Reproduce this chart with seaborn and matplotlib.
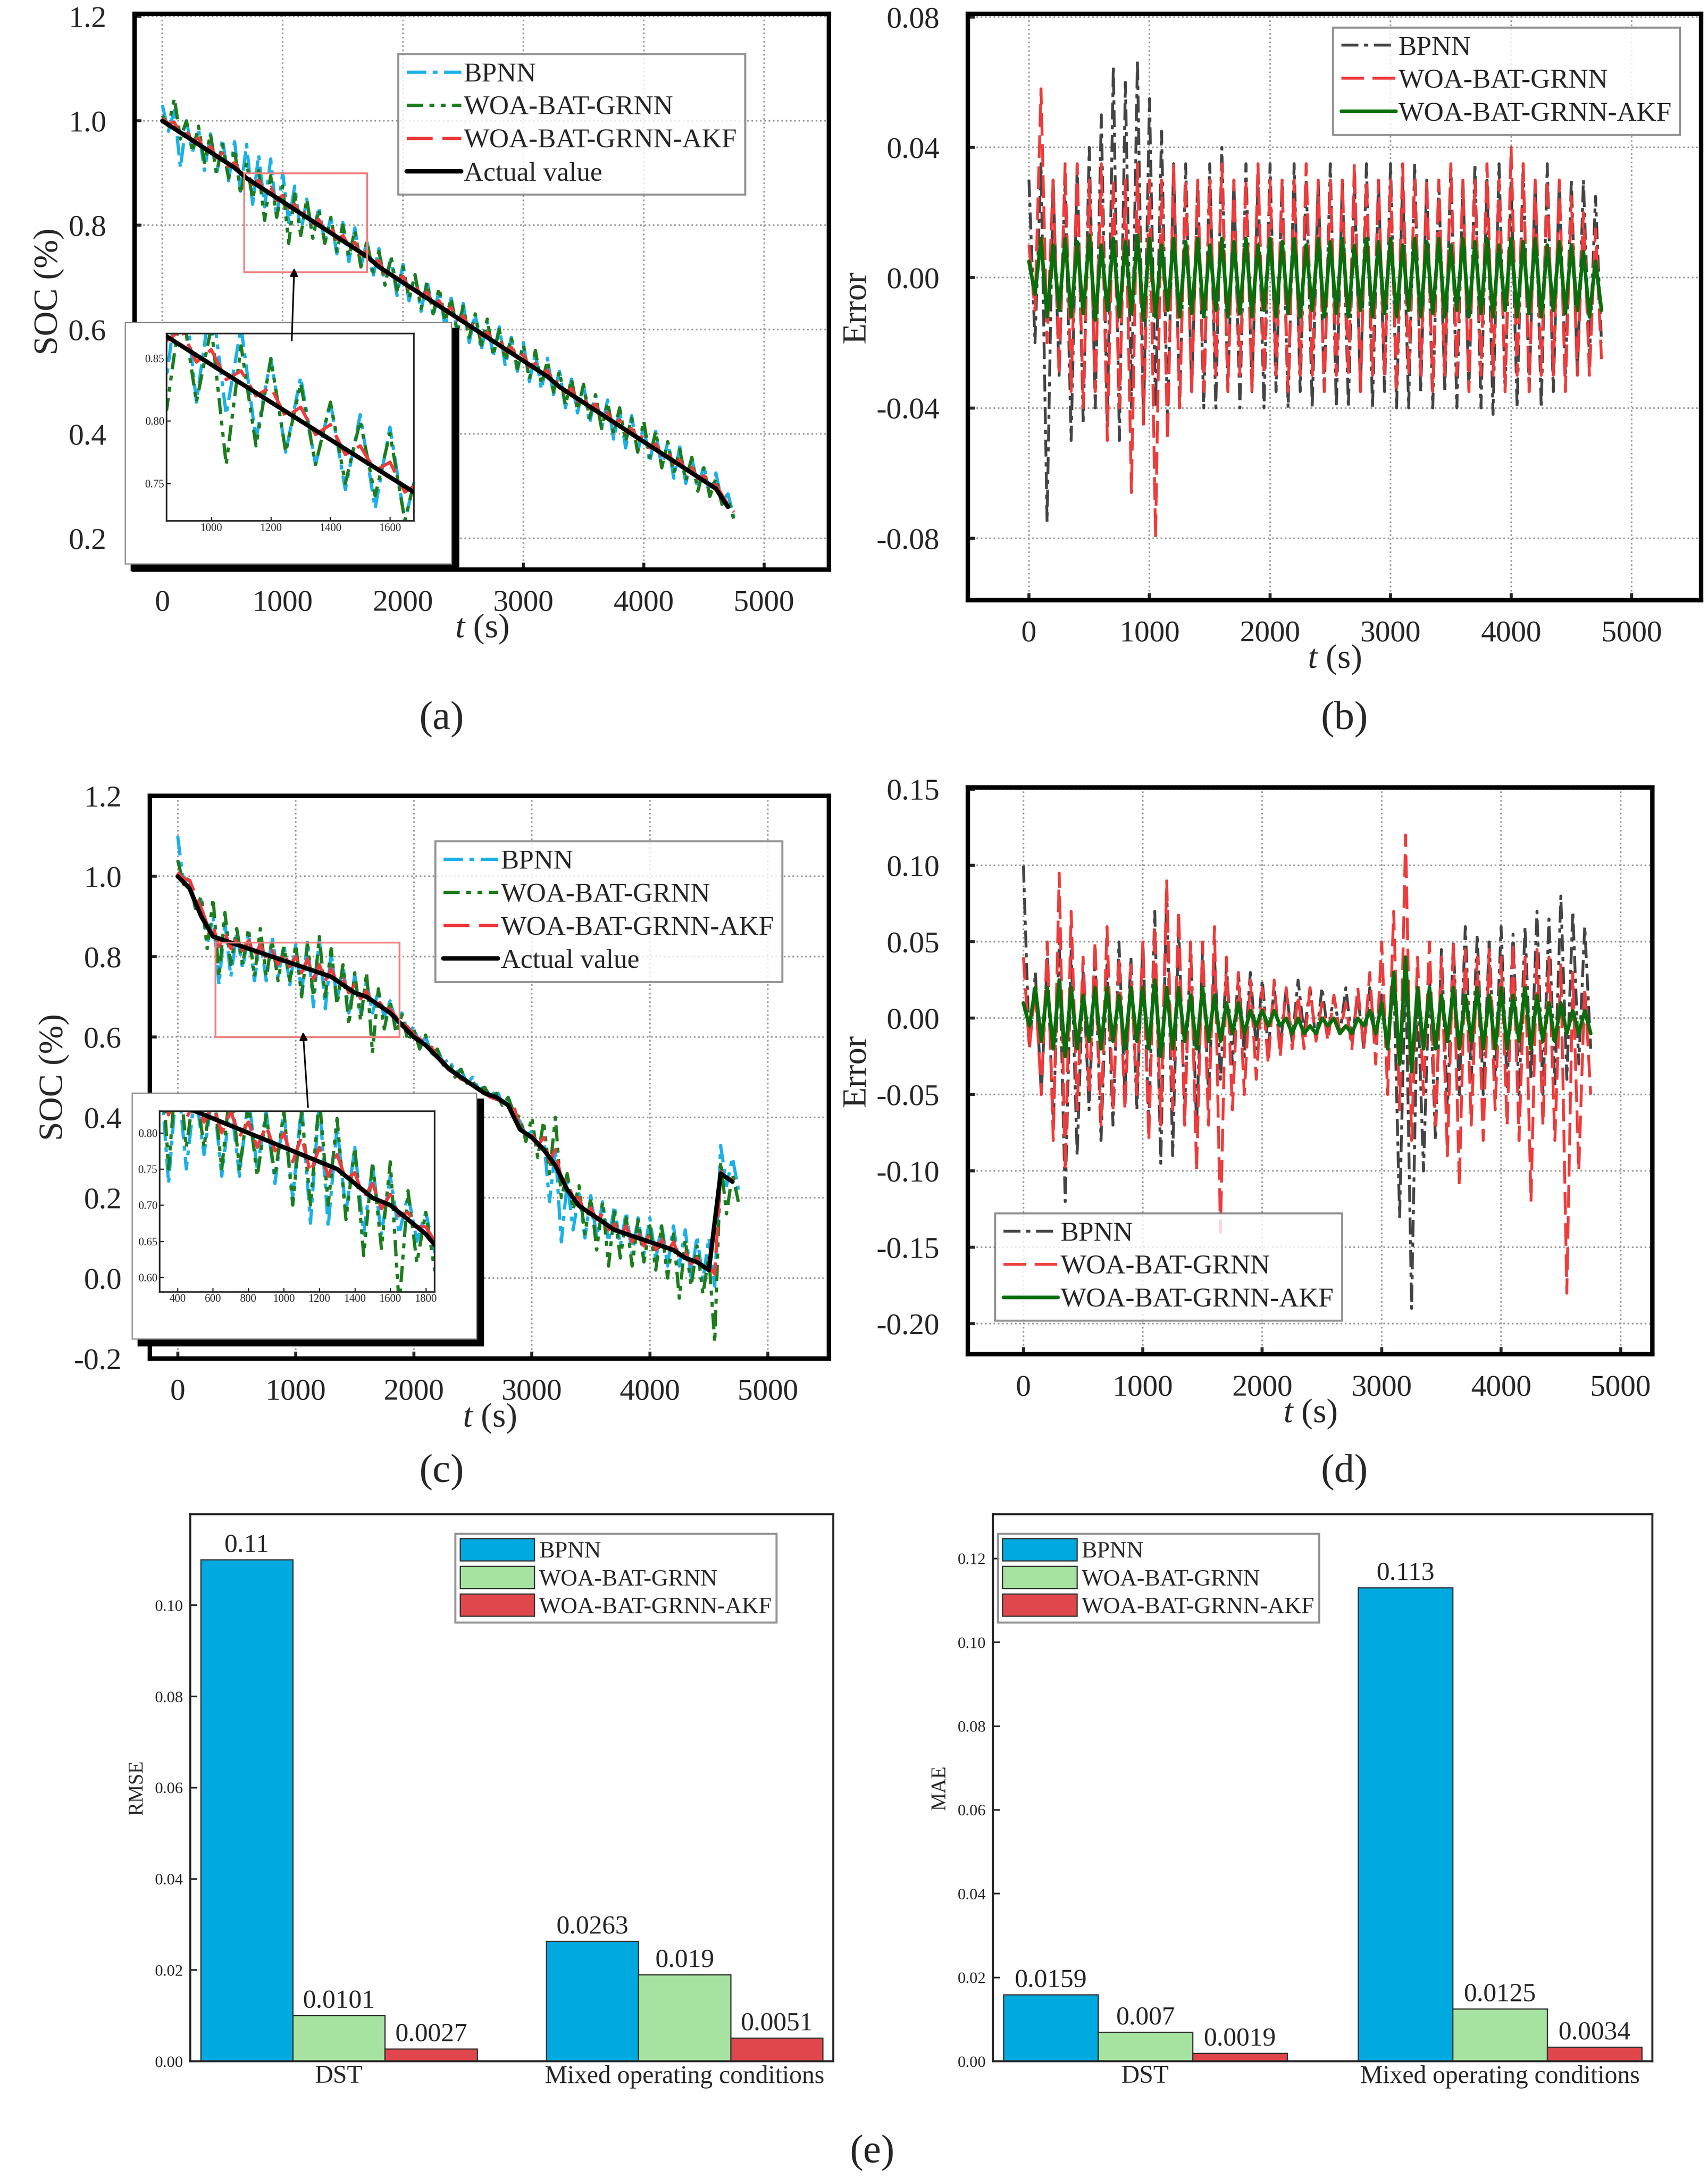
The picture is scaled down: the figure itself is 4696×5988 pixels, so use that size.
import numpy as np
import pandas as pd
import matplotlib.pyplot as plt
from matplotlib.patches import Rectangle, FancyArrowPatch
import seaborn as sns

sns.set_style('ticks')
plt.rcParams['font.family'] = ['Liberation Serif', 'DejaVu Serif']
plt.rcParams['mathtext.fontset'] = 'custom'
plt.rcParams['mathtext.rm'] = 'Liberation Serif'
plt.rcParams['mathtext.it'] = 'Liberation Serif:italic'
plt.rcParams['xtick.direction'] = 'in'
plt.rcParams['ytick.direction'] = 'in'

# time grid (s), one value per 100 s
t = np.arange(0, 4800, 100)

# DST: actual SOC
soc_a = [1.00, 0.985, 0.97, 0.955, 0.94, 0.925, 0.91, 0.89, 0.875, 0.86,
         0.845, 0.83, 0.815, 0.80, 0.785, 0.77, 0.755, 0.74, 0.72, 0.705,
         0.69, 0.675, 0.66, 0.645, 0.63, 0.615, 0.60, 0.585, 0.57, 0.555,
         0.54, 0.525, 0.51, 0.49, 0.475, 0.46, 0.445, 0.43, 0.415, 0.40,
         0.385, 0.37, 0.355, 0.34, 0.325, 0.31, 0.295, 0.26]
# DST error envelopes (upper / lower spike per 100 s)
b_bp_hi = [0.03, 0.035, 0.03, 0.03, 0.035, 0.04, 0.05, 0.065, 0.06, 0.067,
           0.055, 0.045, 0.035, 0.035, 0.03, 0.035, 0.04, 0.03, 0.035, 0.03,
           0.035, 0.03, 0.035, 0.03, 0.03, 0.035, 0.03, 0.03, 0.035, 0.03,
           0.035, 0.03, 0.035, 0.03, 0.03, 0.035, 0.03, 0.035, 0.03, 0.035,
           0.03, 0.035, 0.03, 0.035, 0.03, 0.03, 0.03, 0.025]
b_bp_lo = [-0.02, -0.075, -0.03, -0.05, -0.045, -0.04, -0.045, -0.05, -0.04, -0.045,
           -0.04, -0.045, -0.04, -0.035, -0.04, -0.04, -0.035, -0.04, -0.035, -0.04,
           -0.035, -0.04, -0.035, -0.04, -0.035, -0.04, -0.04, -0.035, -0.04, -0.035,
           -0.04, -0.04, -0.035, -0.04, -0.035, -0.04, -0.035, -0.04, -0.042, -0.035,
           -0.04, -0.035, -0.04, -0.035, -0.03, -0.03, -0.025, -0.02]
b_gr_hi = [0.01, 0.058, 0.03, 0.035, 0.035, 0.03, 0.035, 0.03, 0.03, 0.035,
           0.03, 0.03, 0.035, 0.03, 0.03, 0.03, 0.035, 0.03, 0.03, 0.035,
           0.03, 0.03, 0.03, 0.035, 0.03, 0.03, 0.03, 0.035, 0.03, 0.03,
           0.03, 0.035, 0.03, 0.03, 0.03, 0.035, 0.03, 0.03, 0.035, 0.03,
           0.04, 0.035, 0.03, 0.03, 0.03, 0.025, 0.02, 0.015]
b_gr_lo = [-0.01, -0.02, -0.03, -0.035, -0.04, -0.035, -0.05, -0.04, -0.066, -0.045,
           -0.08, -0.05, -0.04, -0.035, -0.035, -0.03, -0.035, -0.03, -0.035, -0.03,
           -0.03, -0.035, -0.03, -0.03, -0.035, -0.03, -0.03, -0.035, -0.03, -0.03,
           -0.035, -0.03, -0.03, -0.035, -0.03, -0.03, -0.035, -0.03, -0.03, -0.035,
           -0.03, -0.035, -0.03, -0.03, -0.035, -0.03, -0.03, -0.025]
b_ak_hi = [0.005, 0.012, 0.01, 0.012, 0.011, 0.013, 0.01, 0.012, 0.011, 0.013,
           0.012, 0.01, 0.012, 0.011, 0.012, 0.01, 0.012, 0.011, 0.012, 0.01,
           0.012, 0.011, 0.012, 0.01, 0.012, 0.011, 0.012, 0.01, 0.012, 0.011,
           0.012, 0.01, 0.012, 0.011, 0.012, 0.01, 0.012, 0.011, 0.012, 0.01,
           0.012, 0.011, 0.012, 0.01, 0.011, 0.01, 0.008, 0.005]
b_ak_lo = [-0.005, -0.012, -0.01, -0.012, -0.011, -0.013, -0.01, -0.012, -0.011, -0.013,
           -0.012, -0.01, -0.012, -0.011, -0.012, -0.01, -0.012, -0.011, -0.012, -0.01,
           -0.012, -0.011, -0.012, -0.01, -0.012, -0.011, -0.012, -0.01, -0.012, -0.011,
           -0.012, -0.01, -0.012, -0.011, -0.012, -0.01, -0.012, -0.011, -0.012, -0.01,
           -0.012, -0.011, -0.012, -0.01, -0.011, -0.01, -0.012, -0.01]

# mixed conditions: actual SOC
soc_c = [1.00, 0.97, 0.90, 0.85, 0.84, 0.83, 0.82, 0.81, 0.80, 0.79,
         0.78, 0.77, 0.76, 0.75, 0.73, 0.71, 0.70, 0.68, 0.66, 0.63,
         0.60, 0.58, 0.55, 0.52, 0.50, 0.48, 0.46, 0.45, 0.43, 0.37,
         0.35, 0.32, 0.28, 0.22, 0.18, 0.16, 0.14, 0.12, 0.11, 0.10,
         0.09, 0.08, 0.07, 0.05, 0.04, 0.02, 0.26, 0.24]
d_bp_hi = [0.10, 0.03, 0.04, 0.05, 0.045, 0.03, 0.04, 0.035, 0.05, 0.04,
           0.05, 0.07, 0.085, 0.06, 0.05, 0.045, 0.04, 0.035, 0.03, 0.03,
           0.025, 0.02, 0.02, 0.025, 0.02, 0.02, 0.015, 0.02, 0.015, 0.02,
           0.015, 0.03, 0.04, 0.02, 0.03, 0.045, 0.05, 0.06, 0.055, 0.05,
           0.06, 0.055, 0.06, 0.07, 0.065, 0.08, 0.07, 0.06]
d_bp_lo = [-0.02, -0.05, -0.07, -0.12, -0.09, -0.06, -0.08, -0.07, -0.05, -0.06,
           -0.07, -0.095, -0.09, -0.06, -0.07, -0.05, -0.04, -0.03, -0.025, -0.02,
           -0.02, -0.02, -0.015, -0.01, -0.015, -0.01, -0.01, -0.015, -0.02, -0.015,
           -0.02, -0.13, -0.19, -0.1, -0.08, -0.06, -0.05, -0.04, -0.05, -0.04,
           -0.045, -0.05, -0.04, -0.05, -0.045, -0.04, -0.03, -0.02]
d_gr_hi = [0.04, 0.02, 0.05, 0.095, 0.07, 0.04, 0.05, 0.06, 0.04, 0.035,
           0.05, 0.06, 0.09, 0.07, 0.05, 0.05, 0.06, 0.04, 0.03, 0.025,
           0.02, 0.025, 0.02, 0.015, 0.02, 0.01, 0.015, 0.01, 0.02, 0.03,
           0.05, 0.07, 0.12, 0.04, 0.05, 0.04, 0.05, 0.045, 0.04, 0.045,
           0.04, 0.05, 0.04, 0.045, 0.04, 0.035, 0.03, 0.02]
d_gr_lo = [-0.02, -0.05, -0.08, -0.1, -0.06, -0.05, -0.07, -0.06, -0.06, -0.05,
           -0.08, -0.07, -0.06, -0.07, -0.1, -0.07, -0.14, -0.06, -0.05, -0.04,
           -0.03, -0.025, -0.02, -0.02, -0.015, -0.015, -0.01, -0.02, -0.02, -0.03,
           -0.05, -0.06, -0.08, -0.05, -0.07, -0.09, -0.11, -0.07, -0.08, -0.06,
           -0.07, -0.08, -0.12, -0.07, -0.08, -0.18, -0.1, -0.05]
d_ak_hi = [0.01, 0.02, 0.02, 0.025, 0.02, 0.015, 0.02, 0.02, 0.015, 0.02,
           0.02, 0.025, 0.02, 0.02, 0.015, 0.02, 0.015, 0.01, 0.01, 0.005,
           0.005, 0.005, 0.0, 0.0, -0.005, 0.0, 0.0, -0.005, 0.0, 0.005,
           0.01, 0.03, 0.04, 0.02, 0.02, 0.015, 0.02, 0.015, 0.02, 0.015,
           0.02, 0.015, 0.02, 0.015, 0.01, 0.01, 0.005, 0.005]
d_ak_lo = [-0.005, -0.015, -0.02, -0.025, -0.02, -0.015, -0.02, -0.015, -0.02, -0.015,
           -0.02, -0.025, -0.02, -0.015, -0.02, -0.015, -0.015, -0.01, -0.01, -0.005,
           -0.005, -0.005, -0.01, -0.01, -0.01, -0.005, -0.01, -0.01, -0.005, -0.01,
           -0.02, -0.03, -0.035, -0.02, -0.02, -0.015, -0.02, -0.015, -0.02, -0.02,
           -0.02, -0.015, -0.02, -0.015, -0.015, -0.01, -0.01, -0.01]

# bar charts
methods = ['BPNN', 'WOA-BAT-GRNN', 'WOA-BAT-GRNN-AKF']
conditions = ['DST', 'Mixed operating conditions']
rmse = [[0.11, 0.0101, 0.0027], [0.0263, 0.019, 0.0051]]
mae = [[0.0159, 0.007, 0.0019], [0.113, 0.0125, 0.0034]]
rmse_lbl = [['0.11', '0.0101', '0.0027'], ['0.0263', '0.019', '0.0051']]
mae_lbl = [['0.0159', '0.007', '0.0019'], ['0.113', '0.0125', '0.0034']]
bar_colors = ['#00a9e0', '#a6e3a1', '#e0474c']

W, H = 1230, 1568
fig = plt.figure(figsize=(11.74, 14.97), dpi=400)


def rect(x0, y0, x1, y1):
    return [x0 / W, 1 - y1 / H, (x1 - x0) / W, (y1 - y0) / H]


def zig(hi, lo):
    tz = np.ravel([t, t + 50], 'F')
    ez = np.ravel([np.array(hi), np.array(lo)], 'F')
    return tz, ez


def frame(ax, lw=2.2):
    for s in ax.spines.values():
        s.set_linewidth(lw)
        s.set_color('black')
    ax.grid(True, ls=':', color='#999999', lw=0.8)


def line(ax, x, y, color, ls, lw=1.6, label=None, z=2):
    sns.lineplot(x=x, y=y, ax=ax, color=color, sort=False, estimator=None,
                 lw=lw, label=label, zorder=z)
    ax.lines[-1].set_linestyle(ls)


ls_bp = (0, (6, 2, 1.5, 2))
ls_gr = (0, (5, 2, 1.5, 2, 1.5, 2))
ls_ak = (0, (8, 3))
leg_kw = dict(fontsize=13.5, frameon=True, fancybox=False, edgecolor='#777777',
              handlelength=2.0, handletextpad=0.1, borderpad=0.3, labelspacing=0.3)

soc_sets = [(soc_a, [b_bp_hi, b_bp_lo, b_gr_hi, b_gr_lo, b_ak_hi, b_ak_lo]),
            (soc_c, [d_bp_hi, d_bp_lo, d_gr_hi, d_gr_lo, d_ak_hi, d_ak_lo])]
soc_rects = [rect(97, 10, 597, 410), rect(108, 573, 597, 978)]
soc_lims = [((-230, 5540), (0.14, 1.205)), ((-235, 5518), (-0.2, 1.2))]
soc_ticks = [np.arange(0.2, 1.21, 0.2), np.arange(-0.2, 1.21, 0.2)]
pink = [(680, 0.71, 1020, 0.19), (318, 0.60, 1560, 0.235)]
inset_box = [(90, 232, 325, 406), (95, 787, 343, 964)]
inset_ax = [rect(120, 240, 298, 375), rect(115, 800, 313, 930)]
inset_lim = [((850, 1680), (0.72, 0.87)), ((300, 1850), (0.58, 0.83))]
inset_xt = [[1000, 1200, 1400, 1600], [400, 600, 800, 1000, 1200, 1400, 1600, 1800]]
inset_yt = [[0.75, 0.80, 0.85], [0.60, 0.65, 0.70, 0.75, 0.80]]
arrows = [((210, 248), (212, 190)), ((222, 800), (218, 740))]
leg_loc = [(0.36, 0.65), (0.4, 0.645)]


def draw_soc(ax, soc, errs, legend):
    s = np.repeat(np.array(soc), 2)
    tz, e = zig(errs[0], errs[1])
    line(ax, tz, s + e, '#1ab0e8', ls_bp, label='BPNN' if legend else None)
    tz, e = zig(errs[2], errs[3])
    line(ax, tz, s + e, '#1d7d1d', ls_gr, label='WOA-BAT-GRNN' if legend else None)
    tz, e = zig(errs[4], errs[5])
    line(ax, tz, s + e, '#ee3b3b', ls_ak, label='WOA-BAT-GRNN-AKF' if legend else None)
    line(ax, t, soc, 'black', '-', lw=2.2, label='Actual value' if legend else None, z=3)


for i in range(2):
    soc, errs = soc_sets[i]
    ax = fig.add_axes(soc_rects[i])
    draw_soc(ax, soc, errs, True)
    ax.set_xlim(*soc_lims[i][0])
    ax.set_ylim(*soc_lims[i][1])
    ax.set_yticks(soc_ticks[i])
    ax.set_yticklabels([f'{v:.1f}' for v in soc_ticks[i]])
    ax.set_xticks([0, 1000, 2000, 3000, 4000, 5000])
    ax.tick_params(labelsize=15, width=1.5)
    ax.tick_params(axis='y', pad=14)
    ax.tick_params(axis='x', pad=10)
    ax.set_xlabel('$t$ (s)', fontsize=17, labelpad=-2)
    ax.set_ylabel('SOC (%)', fontsize=17, labelpad=2)
    frame(ax)
    ax.legend(loc='lower left', bbox_to_anchor=leg_loc[i], **leg_kw)
    px, py, pw, ph = pink[i]
    ax.add_patch(Rectangle((px, py), pw, ph, fill=False, ec='#f08080', lw=0.9, zorder=4))
    # inset shadow box
    bx0, by0, bx1, by1 = inset_box[i]
    fig.patches.append(Rectangle((bx0 / W + 0.004, 1 - by1 / H - 0.003),
                                 (bx1 - bx0) / W, (by1 - by0) / H,
                                 transform=fig.transFigure, fc='black', ec='black', zorder=5))
    fig.patches.append(Rectangle((bx0 / W, 1 - by1 / H), (bx1 - bx0) / W, (by1 - by0) / H,
                                 transform=fig.transFigure, fc='white', ec='#888888', lw=0.6, zorder=6))
    ins = fig.add_axes(inset_ax[i], zorder=7)
    draw_soc(ins, soc, errs, False)
    ins.set_xlim(*inset_lim[i][0])
    ins.set_ylim(*inset_lim[i][1])
    ins.set_xticks(inset_xt[i])
    ins.set_yticks(inset_yt[i])
    ins.tick_params(labelsize=5.5, width=0.6, length=2, pad=1)
    ins.set_xlabel('')
    ins.set_ylabel('')
    for s in ins.spines.values():
        s.set_linewidth(0.8)
    (x0, y0), (x1, y1) = arrows[i]
    fig.add_artist(FancyArrowPatch(
        (x0 / W, 1 - y0 / H), (x1 / W, 1 - y1 / H), transform=fig.transFigure,
        arrowstyle='-|>', mutation_scale=8, color='black', lw=0.8, zorder=8))

# error panels
err_rects = [rect(697, 10, 1225, 432), rect(697, 567, 1190, 975)]
err_lims = [((-507, 5576), (-0.099, 0.081)), ((-465, 5267), (-0.22, 0.151))]
err_ticks = [[-0.08, -0.04, 0.0, 0.04, 0.08],
             [-0.20, -0.15, -0.10, -0.05, 0.0, 0.05, 0.10, 0.15]]
for i in range(2):
    errs = soc_sets[i][1]
    ax = fig.add_axes(err_rects[i])
    tz, e = zig(errs[0], errs[1])
    line(ax, tz, e, '#444444', ls_bp, lw=1.4, label='BPNN')
    tz, e = zig(errs[2], errs[3])
    line(ax, tz, e, '#ee3b3b', ls_ak, lw=1.4, label='WOA-BAT-GRNN')
    tz, e = zig(errs[4], errs[5])
    line(ax, tz, e, '#0a6e0a', '-', lw=1.8, label='WOA-BAT-GRNN-AKF', z=3)
    ax.set_xlim(*err_lims[i][0])
    ax.set_ylim(*err_lims[i][1])
    ax.set_yticks(err_ticks[i])
    ax.set_yticklabels([f'{v:.2f}' for v in err_ticks[i]])
    ax.set_xticks([0, 1000, 2000, 3000, 4000, 5000])
    ax.tick_params(labelsize=15, width=1.5)
    ax.tick_params(axis='y', pad=14)
    ax.tick_params(axis='x', pad=10)
    ax.set_xlabel('$t$ (s)', fontsize=17, labelpad=-2)
    ax.set_ylabel('Error', fontsize=17, labelpad=2)
    frame(ax)
    if i == 0:
        ax.legend(loc='upper right', bbox_to_anchor=(0.99, 1.0), **leg_kw)
    else:
        ax.legend(loc='lower left', bbox_to_anchor=(0.02, 0.035), **leg_kw)

# bar panels
bar_rects = [rect(137, 1090, 600, 1484), rect(715, 1090, 1190, 1484)]
bar_sets = [(rmse, rmse_lbl, 'RMSE', 0.12, 'upper right', (0.93, 0.985)),
            (mae, mae_lbl, 'MAE', 0.1306, 'upper left', (-0.01, 0.985))]
for i in range(2):
    vals, lbls, name, top, loc, anchor = bar_sets[i]
    df = pd.DataFrame({'cond': np.repeat(conditions, 3),
                       'method': methods * 2,
                       'value': np.ravel(vals)})
    ax = fig.add_axes(bar_rects[i])
    sns.barplot(data=df, x='cond', y='value', hue='method', palette=bar_colors,
                ax=ax, width=0.8, edgecolor='#333333', linewidth=0.6, saturation=1)
    for k, cont in enumerate(ax.containers):
        ax.bar_label(cont, labels=[lbls[0][k], lbls[1][k]], fontsize=13, padding=1)
    ax.set_ylim(0, top)
    ax.set_yticks(np.arange(0, top, 0.02))
    ax.set_yticklabels([f'{v:.2f}' for v in np.arange(0, top, 0.02)])
    ax.set_xlim(-0.43, 1.43)
    ax.tick_params(axis='y', labelsize=8, width=0.8)
    ax.tick_params(axis='x', labelsize=12.5, length=0, pad=2)
    ax.set_xlabel('')
    ax.set_ylabel(name, fontsize=10)
    for s in ax.spines.values():
        s.set_linewidth(1.0)
    ax.grid(False)
    ax.legend(loc=loc, bbox_to_anchor=anchor, fontsize=11.5, frameon=True,
              fancybox=False, edgecolor='#777777', handlelength=3.2, handleheight=1.1,
              handletextpad=0.2, borderpad=0.2, labelspacing=0.15)

for txt, x, y in [('(a)', 318, 518), ('(b)', 968, 518), ('(c)', 318, 1060),
                  ('(d)', 968, 1060), ('(e)', 628, 1550)]:
    fig.text(x / W, 1 - y / H, txt, fontsize=20, ha='center', va='center')

fig.savefig('out.png', dpi=400, facecolor='white')
